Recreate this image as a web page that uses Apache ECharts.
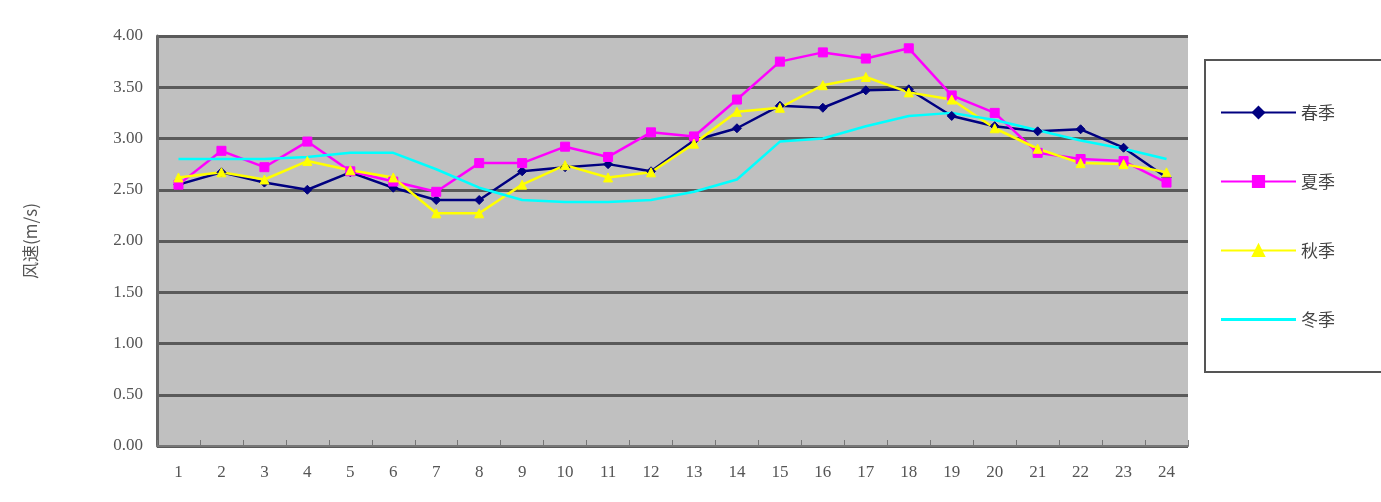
<!DOCTYPE html>
<html>
<head>
<meta charset="utf-8">
<script src="https://cdn.jsdelivr.net/npm/echarts@6/dist/echarts.min.js"></script>
<style>
  html, body { margin: 0; padding: 0; background: #fff; }
  #wind_chart { width: 1381px; height: 502px; }
</style>
</head>
<body>
<div id="wind_chart"></div>
<script>
// 各季节逐时平均风速
var hours = ['1', '2', '3', '4', '5', '6', '7', '8', '9', '10', '11', '12',
  '13', '14', '15', '16', '17', '18', '19', '20', '21', '22', '23', '24']
var spring = [2.55, 2.67, 2.57, 2.50, 2.67, 2.52, 2.40, 2.40, 2.68, 2.72, 2.75, 2.68,
  2.98, 3.10, 3.32, 3.30, 3.47, 3.48, 3.22, 3.12, 3.07, 3.09, 2.91, 2.62]
var summer = [2.55, 2.88, 2.72, 2.97, 2.68, 2.58, 2.48, 2.76, 2.76, 2.92, 2.82, 3.06,
  3.02, 3.38, 3.75, 3.84, 3.78, 3.88, 3.42, 3.25, 2.86, 2.80, 2.78, 2.57]
var autumn = [2.62, 2.67, 2.60, 2.78, 2.69, 2.62, 2.27, 2.27, 2.55, 2.74, 2.62, 2.67,
  2.95, 3.26, 3.30, 3.52, 3.60, 3.45, 3.38, 3.10, 2.90, 2.76, 2.75, 2.67]
var winter = [2.80, 2.80, 2.80, 2.82, 2.86, 2.86, 2.70, 2.52, 2.40, 2.38, 2.38, 2.40,
  2.48, 2.60, 2.97, 3.00, 3.12, 3.22, 3.25, 3.18, 3.08, 2.98, 2.90, 2.80]
var yTicks = [0, 0.5, 1, 1.5, 2, 2.5, 3, 3.5, 4]

var wind_chart = echarts.init(document.getElementById('wind_chart'))

function lineSeries(name, data, color, symbol, size) {
  return {
    name: name,
    type: 'line',
    data: data,
    symbol: symbol,
    symbolSize: size,
    showSymbol: symbol !== 'none',
    lineStyle: { color: color, width: 2.5 },
    itemStyle: { color: color, borderColor: color, borderWidth: 1 },
  }
}

// 图例里冬季只画一段线（角上两个极小的点只用来撑开图标的范围）
var lineIcon = 'path://M0,0 L0.05,0 L0,0.05 Z M75,14 L74.95,14 L75,13.95 Z M0,5.5 L75,5.5 L75,8.5 L0,8.5 Z'

option = {
  backgroundColor: '#ffffff',
  animation: false,
  textStyle: { fontFamily: '"Noto Sans CJK SC", "DejaVu Sans", sans-serif' },
  grid: {
    left: 157,
    right: 193,
    top: 36,
    bottom: 56,
    show: true,
    backgroundColor: '#c0c0c0',
    borderWidth: 0,
  },
  legend: {
    orient: 'vertical',
    left: 1205,
    top: 60,
    padding: [44, 80, 44, 15],
    itemGap: 52,
    itemWidth: 75,
    itemHeight: 14,
    borderColor: '#555555',
    borderWidth: 2,
    backgroundColor: '#ffffff',
    textStyle: { fontSize: 17, color: '#444444' },
    data: ['春季', '夏季', '秋季', { name: '冬季', icon: lineIcon, itemStyle: { borderWidth: 0 } }],
  },
  xAxis: {
    type: 'category',
    data: hours,
    boundaryGap: true,
    axisLine: { show: true, lineStyle: { color: '#777777', width: 2 } },
    axisTick: { show: true, inside: true, length: 6, lineStyle: { color: '#777777' } },
    axisLabel: {
      color: '#555555',
      fontSize: 17,
      margin: 18,
      fontFamily: '"Liberation Serif", serif',
      interval: 0,
    },
  },
  yAxis: {
    type: 'value',
    min: 0,
    max: 4,
    interval: 0.5,
    name: '风速(m/s)',
    nameLocation: 'middle',
    nameGap: 118,
    nameTextStyle: { fontSize: 17, color: '#555555' },
    axisLine: { show: true, lineStyle: { color: '#666666', width: 3 } },
    axisTick: { show: false },
    axisLabel: {
      color: '#555555',
      fontSize: 17,
      margin: 14,
      fontFamily: '"Liberation Serif", serif',
      formatter: function (v) {
        return yTicks.indexOf(v) >= 0 ? v.toFixed(2) : ''
      },
    },
    splitLine: { show: true, lineStyle: { color: '#5a5a5a', width: 3 } },
  },
  series: [
    lineSeries('春季', spring, '#000080', 'diamond', 9),
    lineSeries('夏季', summer, '#ff00ff', 'rect', 9),
    lineSeries('秋季', autumn, '#ffff00', 'triangle', 9),
    lineSeries('冬季', winter, '#00ffff', 'none', 8),
  ],
}
wind_chart.setOption(option)

window.addEventListener('resize', function () {
  wind_chart.resize()
})
</script>
</body>
</html>
